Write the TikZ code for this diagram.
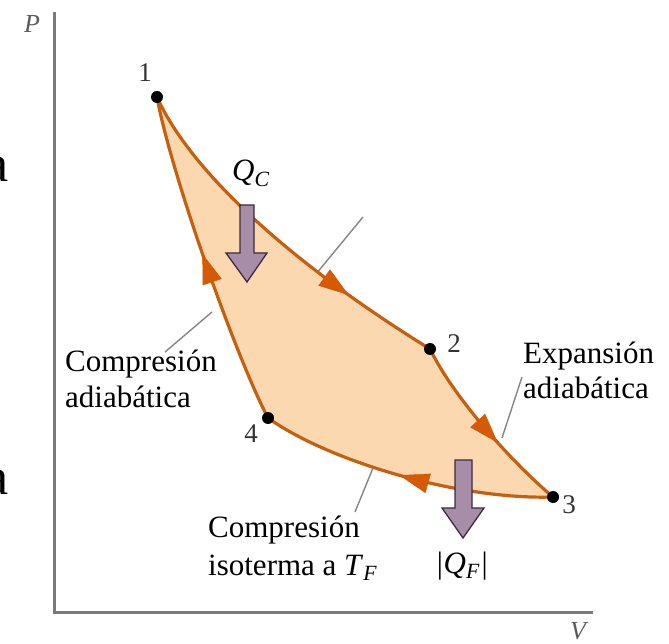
\documentclass[tikz,border=0pt]{standalone}
\usepackage{fontspec}
\setmainfont{Liberation Serif}
\usetikzlibrary{arrows.meta,decorations.markings}
\definecolor{fillc}{HTML}{FBD8B0}
\definecolor{curvec}{HTML}{C4600F}
\definecolor{arrc}{HTML}{D45A06}
\definecolor{qfill}{HTML}{A88DA8}
\definecolor{qline}{HTML}{3C2C3C}
\definecolor{axisc}{HTML}{7A7A7A}
\definecolor{leadc}{HTML}{858585}
\definecolor{numc}{HTML}{333333}
\newcommand{\heatQ}[1]{{\itshape Q}\textsubscript{\itshape #1}}
\begin{document}
\begin{tikzpicture}[x=1pt,y=-1pt,
  curve/.style={draw=curvec,line width=3.2pt,line cap=round},
  flowat/.style={postaction={decorate},decoration={markings,
     mark=at position #1 with {\arrow[arrc]{Triangle[length=30pt,width=20pt,line width=0.5pt]}}}},
  dot/.style={circle,fill=black,minimum size=12pt,inner sep=0pt},
  lbl/.style={font=\fontsize{31}{36}\selectfont,inner sep=0pt},
  num/.style={font=\fontsize{27}{30}\selectfont,text=numc,inner sep=0pt,anchor=base},
  axlbl/.style={font=\fontsize{26}{30}\selectfont\itshape,text=numc!80!white,inner sep=0pt,anchor=base},
  leader/.style={draw=leadc,line width=1.4pt},
  qarrow/.style={fill=qfill,draw=qline,line width=1.3pt,line join=miter},
  axis/.style={draw=axisc,line width=3pt}]
\useasboundingbox (0,0) rectangle (669,644);

% cut-off letters at the left edge
\node[font=\fontsize{52}{60}\selectfont,inner sep=0pt,anchor=base east] (cutA) at (9,182) {a};
\node[font=\fontsize{52}{60}\selectfont,inner sep=0pt,anchor=base east] (cutB) at (9,494) {a};

% axes
\coordinate (ytop) at (54,12);
\coordinate (orig) at (54,612);
\coordinate (xend) at (593,612);
\draw[axis] (ytop) -- (orig) -- (xend);
\node[axlbl] (P) at (32,33) {P};
\node[axlbl] (V) at (578,639) {V};

% state points
\coordinate (p1) at (157,97);
\coordinate (p2) at (430,349);
\coordinate (p3) at (553,497);
\coordinate (p4) at (268,418);

% leader lines
\coordinate (la1) at (363,217); \coordinate (la2) at (316,274);
\coordinate (lb1) at (165,352); \coordinate (lb2) at (212,312);
\coordinate (lc1) at (522,377); \coordinate (lc2) at (502,438);
\coordinate (ld1) at (355,512); \coordinate (ld2) at (373,468);
\draw[leader] (la1) -- (la2);
\draw[leader] (lb1) -- (lb2);
\draw[leader] (lc1) -- (lc2);
\draw[leader] (ld1) -- (ld2);

% cycle area
\fill[fillc] (p1) .. controls (185,160) and (270,250) .. (p2)
  .. controls (455,400) and (515,465) .. (p3)
  .. controls (460,500) and (330,462) .. (p4)
  .. controls (235,355) and (170,170) .. (p1) -- cycle;

% cycle curves
\draw[curve,flowat=0.74] (p1) .. controls (185,160) and (270,250) .. (p2);
\draw[curve,flowat=0.60] (p2) .. controls (455,400) and (515,465) .. (p3);
\draw[curve,flowat=0.52] (p3) .. controls (460,500) and (330,462) .. (p4);
\draw[curve,flowat=0.52] (p4) .. controls (235,355) and (170,170) .. (p1);

\node[dot] (d1) at (p1) {};
\node[dot] (d2) at (p2) {};
\node[dot] (d3) at (p3) {};
\node[dot] (d4) at (p4) {};
\node[num] (n1) at (145,82) {1};
\node[num] (n2) at (454,352) {2};
\node[num] (n3) at (569,513) {3};
\node[num] (n4) at (251,442) {4};

% heat arrows
\draw[qarrow] (240,205) -- (254,205) -- (254,253) -- (267,253) -- (247,282) -- (226,253) -- (240,253) -- cycle;
\draw[qarrow] (455,460) -- (472,460) -- (472,508) -- (484,508) -- (463,538) -- (442,508) -- (455,508) -- cycle;
\node[lbl,anchor=base west] (QC) at (232,181) {\heatQ{C}};
\node[lbl,anchor=base west] (QF) at (435,573) {{\itshape|}\heatQ{F}{\itshape|}};

% text labels
\node[lbl,anchor=base west] (ca1) at (65,371) {Compresión};
\node[lbl,anchor=base west] (ca2) at (65,407) {adiabática};
\node[lbl,anchor=base west] (ea1) at (523,363) {Expansión};
\node[lbl,anchor=base west] (ea2) at (523,398) {adiabática};
\node[lbl,anchor=base west] (ci1) at (208,537) {Compresión};
\node[lbl,anchor=base west] (ci2) at (208,575) {isoterma a \textit{T}\textsubscript{\itshape F}};
\end{tikzpicture}
\end{document}
